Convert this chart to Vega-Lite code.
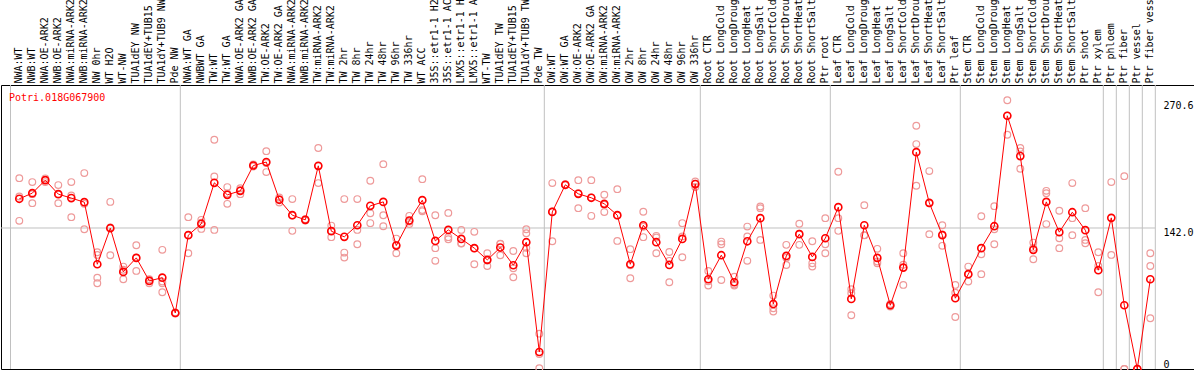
{
"$schema": "https://vega.github.io/schema/vega-lite/v6.json",
"autosize": {"type": "none"},
"padding": {"left": 1, "top": 85, "right": 0, "bottom": 1},
"width": 1193,
"height": 284,
"background": "white",
"title": {"text": "Potri.018G067900", "orient": "bottom", "anchor": "start", "frame": "group", "offset": -283, "dx": 8, "font": "DejaVu Sans Mono", "fontSize": 10, "fontWeight": "normal", "color": "#ff0000"},
"config": {"view": {"stroke": "#000000", "strokeWidth": 1}},
"datasets": {
"means": [
{"cat":"NWA:WT","value":171.4},{"cat":"NWB:WT","value":177.1},{"cat":"NWA:OE-ARK2","value":190.2},{"cat":"NWB:OE-ARK2","value":176.1},{"cat":"NWA:miRNA-ARK2","value":172.1},{"cat":"NWB:miRNA-ARK2","value":168.0},{"cat":"NW 0hr","value":105.5},{"cat":"WT H2O","value":141.8},{"cat":"WT-NW","value":97.8},{"cat":"TUA1dEY NW","value":111.9},{"cat":"TUA1dEY+TUB15 NW","value":88.7},{"cat":"TUA1dY+TUB9 NW","value":92.0},{"cat":"Pde NW","value":56.4},
{"cat":"NWA:WT GA","value":134.8},{"cat":"NWBWT GA","value":146.2},{"cat":"TW:WT","value":187.5},{"cat":"TW:WT GA","value":175.4},{"cat":"NWA:OE-ARK2 GA","value":179.4},{"cat":"NWB:OE-ARK2 GA","value":204.9},{"cat":"TW:OE-ARK2","value":208.4},{"cat":"TW:OE-ARK2 GA","value":170.4},{"cat":"NWA:miRNA-ARK2 ","value":154.9},{"cat":"NWB:miRNA-ARK2 ","value":150.2},{"cat":"TW:miRNA-ARK2","value":204.6},{"cat":"TW:miRNA-ARK2 ","value":138.8},{"cat":"TW 2hr","value":133.1},{"cat":"TW 8hr","value":144.8},{"cat":"TW 24hr","value":164.3},{"cat":"TW 48hr","value":168.3},{"cat":"TW 96hr","value":124.3},{"cat":"TW 336hr","value":149.5},{"cat":"WT ACC","value":170.0},{"cat":"35S::etr1-1 H2O","value":129.0},{"cat":"35S::etr1-1 ACC","value":140.1},{"cat":"LMX5::etr1-1 H2O","value":131.0},{"cat":"LMX5::etr1-1 ACC","value":121.7},{"cat":"WT-TW","value":109.9},{"cat":"TUA1dEY TW","value":122.3},{"cat":"TUA1dEY+TUB15 TW","value":104.5},{"cat":"TUA1dY+TUB9 TW","value":127.7},{"cat":"Pde TW","value":17.1},
{"cat":"OW:WT","value":158.2},{"cat":"OW:WT GA","value":185.5},{"cat":"OW:OE-ARK2","value":176.4},{"cat":"OW:OE-ARK2 GA","value":172.4},{"cat":"OW:miRNA-ARK2","value":166.3},{"cat":"OW:miRNA-ARK2 ","value":154.9},{"cat":"OW 2hr","value":105.5},{"cat":"OW 8hr","value":144.8},{"cat":"OW 24hr","value":127.7},{"cat":"OW 48hr","value":104.8},{"cat":"OW 96hr","value":131.0},{"cat":"OW 336hr","value":186.2},
{"cat":"Root CTR","value":90.4},{"cat":"Root LongCold","value":114.6},{"cat":"Root LongDrought","value":87.4},{"cat":"Root LongHeat","value":128.6},{"cat":"Root LongSalt","value":151.9},{"cat":"Root ShortCold","value":65.5},{"cat":"Root ShortDrought","value":113.9},{"cat":"Root ShortHeat","value":135.8},{"cat":"Root ShortSalt","value":112.9},{"cat":"Ptr root","value":131.7},
{"cat":"Leaf CTR","value":163.0},{"cat":"Leaf LongCold","value":70.6},{"cat":"Leaf LongDrought","value":144.8},{"cat":"Leaf LongHeat","value":111.9},{"cat":"Leaf LongSalt","value":64.2},{"cat":"Leaf ShortCold","value":102.1},{"cat":"Leaf ShortDrought","value":218.4},{"cat":"Leaf ShortHeat","value":167.3},{"cat":"Leaf ShortSalt","value":134.8},{"cat":"Ptr leaf","value":71.3},
{"cat":"Stem CTR","value":95.5},{"cat":"Stem LongCold","value":121.7},{"cat":"Stem LongDrought","value":143.8},{"cat":"Stem LongHeat","value":255.0},{"cat":"Stem LongSalt","value":214.4},{"cat":"Stem ShortCold","value":120.0},{"cat":"Stem ShortDrought","value":168.3},{"cat":"Stem ShortHeat","value":137.8},{"cat":"Stem ShortSalt","value":157.9},{"cat":"Ptr shoot","value":139.8},{"cat":"Ptr xylem","value":99.5},
{"cat":"Ptr phloem","value":152.2},{"cat":"Ptr fiber","value":64.2},{"cat":"Ptr vessel","value":0},{"cat":"Ptr fiber vessel","value":90.4}
],
"reps": [
{"cat":"NWA:WT","value":192.2},{"cat":"NWA:WT","value":173.7},{"cat":"NWA:WT","value":149.2},
{"cat":"NWB:WT","value":188.2},{"cat":"NWB:WT","value":176.1},{"cat":"NWB:WT","value":167.0},
{"cat":"NWA:OE-ARK2","value":192.0},{"cat":"NWA:OE-ARK2","value":190.5},{"cat":"NWA:OE-ARK2","value":188.2},
{"cat":"NWB:OE-ARK2","value":185.2},{"cat":"NWB:OE-ARK2","value":176.1},{"cat":"NWB:OE-ARK2","value":167.0},
{"cat":"NWA:miRNA-ARK2","value":188.2},{"cat":"NWA:miRNA-ARK2","value":174.7},{"cat":"NWA:miRNA-ARK2","value":152.9},
{"cat":"NWB:miRNA-ARK2","value":197.3},{"cat":"NWB:miRNA-ARK2","value":166.3},{"cat":"NWB:miRNA-ARK2","value":140.8},
{"cat":"NW 0hr","value":117.6},{"cat":"NW 0hr","value":114.9},{"cat":"NW 0hr","value":92.0},{"cat":"NW 0hr","value":86.4},
{"cat":"WT H2O","value":168.3},{"cat":"WT H2O","value":142.5},{"cat":"WT H2O","value":114.6},
{"cat":"WT-NW","value":103.1},{"cat":"WT-NW","value":99.9},{"cat":"WT-NW","value":90.4},
{"cat":"TUA1dEY NW","value":124.7},{"cat":"TUA1dEY NW","value":112.2},{"cat":"TUA1dEY NW","value":98.8},
{"cat":"TUA1dEY+TUB15 NW","value":90.4},{"cat":"TUA1dEY+TUB15 NW","value":89.2},{"cat":"TUA1dEY+TUB15 NW","value":86.4},
{"cat":"TUA1dY+TUB9 NW","value":120.0},{"cat":"TUA1dY+TUB9 NW","value":88.0},{"cat":"TUA1dY+TUB9 NW","value":86.4},{"cat":"TUA1dY+TUB9 NW","value":77.3},
{"cat":"Pde NW","value":57.0},{"cat":"Pde NW","value":56.4},{"cat":"Pde NW","value":55.8},
{"cat":"NWA:WT GA","value":152.9},{"cat":"NWA:WT GA","value":134.9},{"cat":"NWA:WT GA","value":116.6},
{"cat":"NWBWT GA","value":150.2},{"cat":"NWBWT GA","value":147.3},{"cat":"NWBWT GA","value":141.1},
{"cat":"TW:WT","value":230.8},{"cat":"TW:WT","value":193.8},{"cat":"TW:WT","value":140.1},
{"cat":"TW:WT GA","value":183.2},{"cat":"TW:WT GA","value":176.7},{"cat":"TW:WT GA","value":166.3},
{"cat":"NWA:OE-ARK2 GA","value":182.1},{"cat":"NWA:OE-ARK2 GA","value":180.0},{"cat":"NWA:OE-ARK2 GA","value":176.1},
{"cat":"NWB:OE-ARK2 GA","value":206.0},{"cat":"NWB:OE-ARK2 GA","value":205.0},{"cat":"NWB:OE-ARK2 GA","value":204.0},
{"cat":"TW:OE-ARK2","value":219.4},{"cat":"TW:OE-ARK2","value":207.5},{"cat":"TW:OE-ARK2","value":198.3},
{"cat":"TW:OE-ARK2 GA","value":172.7},{"cat":"TW:OE-ARK2 GA","value":170.9},{"cat":"TW:OE-ARK2 GA","value":167.6},
{"cat":"NWA:miRNA-ARK2 ","value":171.1},{"cat":"NWA:miRNA-ARK2 ","value":154.5},{"cat":"NWA:miRNA-ARK2 ","value":139.1},
{"cat":"NWB:miRNA-ARK2 ","value":150.9},{"cat":"NWB:miRNA-ARK2 ","value":150.2},{"cat":"NWB:miRNA-ARK2 ","value":149.5},
{"cat":"TW:miRNA-ARK2","value":222.5},{"cat":"TW:miRNA-ARK2","value":204.1},{"cat":"TW:miRNA-ARK2","value":187.2},
{"cat":"TW:miRNA-ARK2 ","value":144.4},{"cat":"TW:miRNA-ARK2 ","value":139.2},{"cat":"TW:miRNA-ARK2 ","value":132.8},
{"cat":"TW 2hr","value":171.1},{"cat":"TW 2hr","value":117.2},{"cat":"TW 2hr","value":112.2},
{"cat":"TW 8hr","value":171.1},{"cat":"TW 8hr","value":140.1},{"cat":"TW 8hr","value":125.7},
{"cat":"TW 24hr","value":189.5},{"cat":"TW 24hr","value":156.9},{"cat":"TW 24hr","value":146.9},
{"cat":"TW 48hr","value":206.3},{"cat":"TW 48hr","value":154.9},{"cat":"TW 48hr","value":143.8},
{"cat":"TW 96hr","value":131.3},{"cat":"TW 96hr","value":125.0},{"cat":"TW 96hr","value":116.6},
{"cat":"TW 336hr","value":154.2},{"cat":"TW 336hr","value":148.4},{"cat":"TW 336hr","value":145.9},
{"cat":"WT ACC","value":191.2},{"cat":"WT ACC","value":160.0},{"cat":"WT ACC","value":158.8},
{"cat":"35S::etr1-1 H2O","value":154.9},{"cat":"35S::etr1-1 H2O","value":121.7},{"cat":"35S::etr1-1 H2O","value":108.9},
{"cat":"35S::etr1-1 ACC","value":157.2},{"cat":"35S::etr1-1 ACC","value":132.8},{"cat":"35S::etr1-1 ACC","value":130.7},
{"cat":"LMX5::etr1-1 H2O","value":140.1},{"cat":"LMX5::etr1-1 H2O","value":126.7},{"cat":"LMX5::etr1-1 H2O","value":126.4},
{"cat":"LMX5::etr1-1 ACC","value":138.1},{"cat":"LMX5::etr1-1 ACC","value":121.5},{"cat":"LMX5::etr1-1 ACC","value":105.5},
{"cat":"WT-TW","value":116.6},{"cat":"WT-TW","value":109.3},{"cat":"WT-TW","value":103.8},
{"cat":"TUA1dEY TW","value":126.3},{"cat":"TUA1dEY TW","value":126.0},{"cat":"TUA1dEY TW","value":114.6},
{"cat":"TUA1dEY+TUB15 TW","value":118.9},{"cat":"TUA1dEY+TUB15 TW","value":101.5},{"cat":"TUA1dEY+TUB15 TW","value":92.4},
{"cat":"TUA1dY+TUB9 TW","value":140.8},{"cat":"TUA1dY+TUB9 TW","value":136.8},{"cat":"TUA1dY+TUB9 TW","value":122.0},{"cat":"TUA1dY+TUB9 TW","value":116.6},
{"cat":"Pde TW","value":35.6},{"cat":"Pde TW","value":15.0},{"cat":"Pde TW","value":0.7},
{"cat":"OW:WT","value":187.2},{"cat":"OW:WT","value":158.7},{"cat":"OW:WT","value":128.7},
{"cat":"OW:WT GA","value":186.0},{"cat":"OW:WT GA","value":185.5},{"cat":"OW:WT GA","value":185.0},
{"cat":"OW:OE-ARK2","value":190.2},{"cat":"OW:OE-ARK2","value":177.0},{"cat":"OW:OE-ARK2","value":162.0},
{"cat":"OW:OE-ARK2 GA","value":190.2},{"cat":"OW:OE-ARK2 GA","value":172.8},{"cat":"OW:OE-ARK2 GA","value":154.2},
{"cat":"OW:miRNA-ARK2","value":175.4},{"cat":"OW:miRNA-ARK2","value":165.5},{"cat":"OW:miRNA-ARK2","value":158.0},
{"cat":"OW:miRNA-ARK2 ","value":181.1},{"cat":"OW:miRNA-ARK2 ","value":154.6},{"cat":"OW:miRNA-ARK2 ","value":129.0},
{"cat":"OW 2hr","value":120.7},{"cat":"OW 2hr","value":104.4},{"cat":"OW 2hr","value":91.4},
{"cat":"OW 8hr","value":158.3},{"cat":"OW 8hr","value":143.3},{"cat":"OW 8hr","value":132.8},
{"cat":"OW 24hr","value":134.1},{"cat":"OW 24hr","value":132.4},{"cat":"OW 24hr","value":116.6},
{"cat":"OW 48hr","value":117.9},{"cat":"OW 48hr","value":108.9},{"cat":"OW 48hr","value":87.4},
{"cat":"OW 96hr","value":146.9},{"cat":"OW 96hr","value":133.4},{"cat":"OW 96hr","value":112.6},
{"cat":"OW 336hr","value":188.8},{"cat":"OW 336hr","value":186.5},{"cat":"OW 336hr","value":183.3},
{"cat":"Root CTR","value":98.8},{"cat":"Root CTR","value":88.4},{"cat":"Root CTR","value":84.0},
{"cat":"Root LongCold","value":128.3},{"cat":"Root LongCold","value":125.7},{"cat":"Root LongCold","value":89.7},
{"cat":"Root LongDrought","value":93.0},{"cat":"Root LongDrought","value":85.2},{"cat":"Root LongDrought","value":84.0},
{"cat":"Root LongHeat","value":143.4},{"cat":"Root LongHeat","value":133.4},{"cat":"Root LongHeat","value":108.9},
{"cat":"Root LongSalt","value":163.6},{"cat":"Root LongSalt","value":162.0},{"cat":"Root LongSalt","value":130.0},
{"cat":"Root ShortCold","value":73.9},{"cat":"Root ShortCold","value":61.2},{"cat":"Root ShortCold","value":57.8},
{"cat":"Root ShortDrought","value":125.0},{"cat":"Root ShortDrought","value":112.0},{"cat":"Root ShortDrought","value":104.8},
{"cat":"Root ShortHeat","value":146.2},{"cat":"Root ShortHeat","value":136.2},{"cat":"Root ShortHeat","value":125.0},
{"cat":"Root ShortSalt","value":128.7},{"cat":"Root ShortSalt","value":106.5},{"cat":"Root ShortSalt","value":103.1},
{"cat":"Ptr root","value":151.9},{"cat":"Ptr root","value":125.7},{"cat":"Ptr root","value":116.6},
{"cat":"Leaf CTR","value":198.6},{"cat":"Leaf CTR","value":151.9},{"cat":"Leaf CTR","value":139.1},
{"cat":"Leaf LongCold","value":80.3},{"cat":"Leaf LongCold","value":76.3},{"cat":"Leaf LongCold","value":54.1},
{"cat":"Leaf LongDrought","value":165.0},{"cat":"Leaf LongDrought","value":134.8},{"cat":"Leaf LongDrought","value":134.6},
{"cat":"Leaf LongHeat","value":121.0},{"cat":"Leaf LongHeat","value":108.2},{"cat":"Leaf LongHeat","value":106.5},
{"cat":"Leaf LongSalt","value":65.5},{"cat":"Leaf LongSalt","value":64.0},{"cat":"Leaf LongSalt","value":63.0},
{"cat":"Leaf ShortCold","value":116.6},{"cat":"Leaf ShortCold","value":105.0},{"cat":"Leaf ShortCold","value":84.7},
{"cat":"Leaf ShortDrought","value":244.9},{"cat":"Leaf ShortDrought","value":226.5},{"cat":"Leaf ShortDrought","value":184.5},
{"cat":"Leaf ShortHeat","value":199.3},{"cat":"Leaf ShortHeat","value":166.8},{"cat":"Leaf ShortHeat","value":135.8},
{"cat":"Leaf ShortSalt","value":144.8},{"cat":"Leaf ShortSalt","value":135.6},{"cat":"Leaf ShortSalt","value":124.0},
{"cat":"Ptr leaf","value":84.7},{"cat":"Ptr leaf","value":76.8},{"cat":"Ptr leaf","value":52.4},
{"cat":"Stem CTR","value":103.1},{"cat":"Stem CTR","value":95.4},{"cat":"Stem CTR","value":88.0},
{"cat":"Stem LongCold","value":153.9},{"cat":"Stem LongCold","value":115.6},{"cat":"Stem LongCold","value":95.5},
{"cat":"Stem LongDrought","value":164.0},{"cat":"Stem LongDrought","value":140.8},{"cat":"Stem LongDrought","value":125.7},
{"cat":"Stem LongHeat","value":270.6},{"cat":"Stem LongHeat","value":255.0},{"cat":"Stem LongHeat","value":235.9},
{"cat":"Stem LongSalt","value":222.5},{"cat":"Stem LongSalt","value":219.0},{"cat":"Stem LongSalt","value":201.6},
{"cat":"Stem ShortCold","value":127.3},{"cat":"Stem ShortCold","value":122.0},{"cat":"Stem ShortCold","value":110.6},
{"cat":"Stem ShortDrought","value":179.4},{"cat":"Stem ShortDrought","value":177.1},{"cat":"Stem ShortDrought","value":145.9},
{"cat":"Stem ShortHeat","value":159.3},{"cat":"Stem ShortHeat","value":131.7},{"cat":"Stem ShortHeat","value":121.7},
{"cat":"Stem ShortSalt","value":187.2},{"cat":"Stem ShortSalt","value":151.9},{"cat":"Stem ShortSalt","value":134.8},
{"cat":"Ptr shoot","value":162.0},{"cat":"Ptr shoot","value":130.0},{"cat":"Ptr shoot","value":126.7},
{"cat":"Ptr xylem","value":117.6},{"cat":"Ptr xylem","value":103.8},{"cat":"Ptr xylem","value":77.3},
{"cat":"Ptr phloem","value":188.2},{"cat":"Ptr phloem","value":114.9},
{"cat":"Ptr fiber","value":194.2},{"cat":"Ptr fiber","value":0},{"cat":"Ptr fiber","value":0},
{"cat":"Ptr vessel","value":0},{"cat":"Ptr vessel","value":0},{"cat":"Ptr vessel","value":0},
{"cat":"Ptr fiber vessel","value":116.6},{"cat":"Ptr fiber vessel","value":103.8},{"cat":"Ptr fiber vessel","value":51.1}
],
"seps": [
{"cat":"Pde NW"},{"cat":"Pde TW"},{"cat":"OW 336hr"},{"cat":"Ptr root"},{"cat":"Ptr leaf"},{"cat":"Ptr xylem"},{"cat":"Ptr phloem"},{"cat":"Ptr fiber"},{"cat":"Ptr vessel"},{"cat":"Ptr fiber vessel"}
],
"first": [{"cat":"NWA:WT"}],
"grid": [{"cat":"NWA:WT","cat2":"Ptr fiber vessel","value":142}]
},
"encoding": {
"x": {"field": "cat", "type": "nominal",
 "scale": {"type": "point", "padding": 0, "range": [18.3, 1149.3], "domain": ["NWA:WT","NWB:WT","NWA:OE-ARK2","NWB:OE-ARK2","NWA:miRNA-ARK2","NWB:miRNA-ARK2","NW 0hr","WT H2O","WT-NW","TUA1dEY NW","TUA1dEY+TUB15 NW","TUA1dY+TUB9 NW","Pde NW","NWA:WT GA","NWBWT GA","TW:WT","TW:WT GA","NWA:OE-ARK2 GA","NWB:OE-ARK2 GA","TW:OE-ARK2","TW:OE-ARK2 GA","NWA:miRNA-ARK2 ","NWB:miRNA-ARK2 ","TW:miRNA-ARK2","TW:miRNA-ARK2 ","TW 2hr","TW 8hr","TW 24hr","TW 48hr","TW 96hr","TW 336hr","WT ACC","35S::etr1-1 H2O","35S::etr1-1 ACC","LMX5::etr1-1 H2O","LMX5::etr1-1 ACC","WT-TW","TUA1dEY TW","TUA1dEY+TUB15 TW","TUA1dY+TUB9 TW","Pde TW","OW:WT","OW:WT GA","OW:OE-ARK2","OW:OE-ARK2 GA","OW:miRNA-ARK2","OW:miRNA-ARK2 ","OW 2hr","OW 8hr","OW 24hr","OW 48hr","OW 96hr","OW 336hr","Root CTR","Root LongCold","Root LongDrought","Root LongHeat","Root LongSalt","Root ShortCold","Root ShortDrought","Root ShortHeat","Root ShortSalt","Ptr root","Leaf CTR","Leaf LongCold","Leaf LongDrought","Leaf LongHeat","Leaf LongSalt","Leaf ShortCold","Leaf ShortDrought","Leaf ShortHeat","Leaf ShortSalt","Ptr leaf","Stem CTR","Stem LongCold","Stem LongDrought","Stem LongHeat","Stem LongSalt","Stem ShortCold","Stem ShortDrought","Stem ShortHeat","Stem ShortSalt","Ptr shoot","Ptr xylem","Ptr phloem","Ptr fiber","Ptr vessel","Ptr fiber vessel"]},
 "axis": {"orient": "top", "title": null, "labelAngle": 270, "labelAlign": "left", "labelBaseline": "middle", "labelPadding": 2, "labelOffset": -1, "ticks": false, "domain": false, "grid": false, "labelFont": "DejaVu Sans Mono", "labelFontSize": 10, "labelColor": "#000000", "labelOverlap": false, "labelLimit": 300, "labelBound": false}}
},
"layer": [
{"data": {"name": "seps"}, "mark": {"type": "rule", "color": "#c0c0c0", "strokeWidth": 1, "xOffset": 5}},
{"data": {"name": "first"}, "mark": {"type": "rule", "color": "#c0c0c0", "strokeWidth": 1, "xOffset": -8.8}},
{"encoding": {"y": {"field": "value", "type": "quantitative",
   "scale": {"domain": [0, 286], "nice": false, "zero": true},
   "axis": {"orient": "right", "offset": -31, "title": null, "values": [0, 142, 270.6], "labelExpr": "datum.value == 0 ? '0' : format(datum.value, '.1f')", "labelAlign": "left", "labelBaseline": {"condition": {"test": "datum.value == 0", "value": "bottom"}, "value": "top"}, "labelPadding": 0, "ticks": false, "domain": false, "grid": false, "labelFont": "DejaVu Sans Mono", "labelFontSize": 10, "labelColor": "#000000", "labelOverlap": false, "labelFlush": false}}},
 "layer": [
  {"data": {"name": "grid"}, "mark": {"type": "rule", "color": "#c0c0c0", "strokeWidth": 1, "xOffset": -18.3, "x2Offset": 4.7}, "encoding": {"x2": {"field": "cat2"}}},
  {"data": {"name": "reps"}, "mark": {"type": "point", "shape": "circle", "filled": false, "size": 45, "stroke": "#ee9a9a", "strokeWidth": 1.2, "opacity": 1}},
  {"data": {"name": "means"}, "mark": {"type": "line", "color": "#ff0000", "strokeWidth": 1}, "encoding": {"order": {"value": null}}},
  {"data": {"name": "means"}, "mark": {"type": "point", "shape": "circle", "filled": false, "size": 50, "stroke": "#ff0000", "strokeWidth": 1.6, "opacity": 1}}
 ]}
]
}
